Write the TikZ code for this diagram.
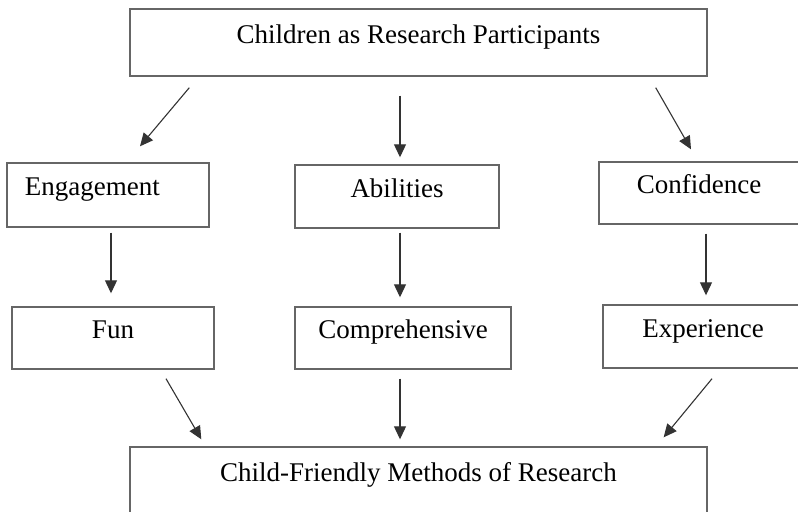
\documentclass[tikz,border=0pt]{standalone}
\usepackage{fontspec}
\setmainfont{Liberation Serif}
\usetikzlibrary{arrows.meta}
\usetikzlibrary{calc}

\tikzset{
    box/.style={draw=black!60, line width=0.7pt, inner xsep=0pt, inner ysep=0pt,
        text height=9pt, text depth=8pt, font=\fontsize{13.5pt}{16pt}\selectfont},
    arr/.style={draw=black!80, line width=0.55pt, -{Triangle[length=6.5pt,width=6pt]}}
}

\begin{document}
\begin{tikzpicture}[x=0.5pt,y=-0.5pt]
        \useasboundingbox (0,0) rectangle (798,512);
        \clip (0,0) rectangle (798,512);

        \node[box, minimum width=288.5pt, minimum height=33.5pt] (top) at (418.5,42.5) {Children as Research Participants};

        \node[box, minimum width=101pt, minimum height=32pt, text width=83pt, inner xsep=9pt, align=left] (eng) at (108,195) {Engagement};
        \node[box, minimum width=102pt, minimum height=31.5pt] (abi) at (397,196.5) {Abilities};
        \node[box, minimum width=100pt, minimum height=31pt] (con) at (699,193) {Confidence};

        \node[box, minimum width=101pt, minimum height=31pt] (fun) at (113,338) {Fun};
        \node[box, minimum width=108pt, minimum height=31pt] (comp) at (403,338) {Comprehensive};
        \node[box, minimum width=100pt, minimum height=31.5pt] (exp) at (703,336.5) {Experience};

        \node[box, minimum width=288.5pt, minimum height=33.5pt] (bot) at (418.5,480.5) {Child-Friendly Methods of Research};

        % top row
        \draw[arr] ($(top.south west)+(60,11)$) -- ($(eng.north)+(32,-16)$);
        \draw[arr] ($(top.south)+(-18.5,19)$) -- ($(abi.north)+(3,-7)$);
        \draw[arr] ($(top.south east)+(-52,11)$) -- ($(con.north)+(-8,-12)$);

        % middle row
        \draw[arr] ($(eng.south)+(3,5)$) -- ($(fun.north)+(-2,-13)$);
        \draw[arr] ($(abi.south)+(3,4)$) -- ($(comp.north)+(-3,-9)$);
        \draw[arr] ($(con.south)+(7,9)$) -- ($(exp.north)+(3,-9)$);

        % bottom row
        \draw[arr] ($(fun.south)+(53,9)$) -- ($(bot.north west)+(72,-7)$);
        \draw[arr] ($(comp.south)+(-3,9)$) -- ($(bot.north)+(-18.5,-7)$);
        \draw[arr] ($(exp.south)+(9,10)$) -- ($(bot.north east)+(-44,-9)$);
    \end{tikzpicture}
\end{document}
